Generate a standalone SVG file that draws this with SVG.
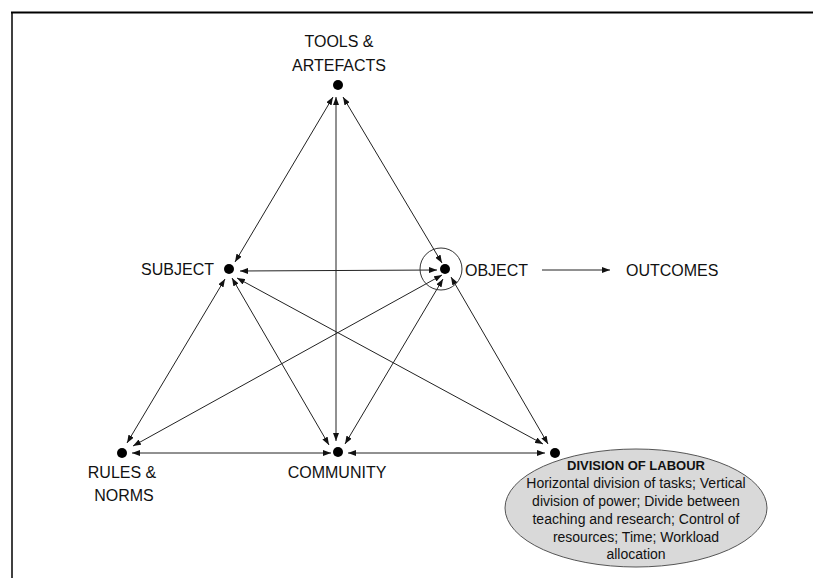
<svg xmlns="http://www.w3.org/2000/svg" width="813" height="578" viewBox="0 0 813 578">
  <defs>
    <marker id="head" viewBox="0 0 8 6" refX="8" refY="3" markerWidth="8" markerHeight="6" markerUnits="userSpaceOnUse" orient="auto-start-reverse">
      <path d="M0,0 L8,3 L0,6 z" fill="#111"/>
    </marker>
    <style>
      .frame { stroke: #000; fill: none; }
      .dot { fill: #000; }
      .lbl { font-family: "Liberation Sans", Arial, sans-serif; font-size: 16px; fill: #111; text-anchor: middle; }
      .lbl-l { font-family: "Liberation Sans", Arial, sans-serif; font-size: 16px; fill: #111; }
      .lbl-r { font-family: "Liberation Sans", Arial, sans-serif; font-size: 16px; fill: #111; text-anchor: end; }
      .link { stroke: #222; stroke-width: 1; fill: none; marker-start: url(#head); marker-end: url(#head); }
      .one-way { stroke: #222; stroke-width: 1; fill: none; marker-end: url(#head); }
      .dol-title { font-family: "Liberation Sans", Arial, sans-serif; font-size: 13px; font-weight: bold; fill: #111; text-anchor: middle; }
      .dol-body { font-family: "Liberation Sans", Arial, sans-serif; font-size: 14px; fill: #111; text-anchor: middle; }
    </style>
  </defs>

  <!-- page frame (top and left edges) -->
  <line class="frame" x1="11" y1="12.5" x2="813" y2="12.5" stroke-width="2"/>
  <line class="frame" x1="12" y1="12" x2="12" y2="578" stroke-width="1.5"/>

  <!-- connectors -->
  <g id="connectors">
    <line class="link" x1="333" y1="97" x2="235" y2="262"/>
    <line class="link" x1="336" y1="97" x2="336" y2="441"/>
    <line class="link" x1="343" y1="97" x2="442" y2="263"/>
    <line class="link" x1="240" y1="271" x2="437" y2="270"/>
    <line class="link" x1="225" y1="279" x2="127" y2="443"/>
    <line class="link" x1="232" y1="278" x2="329" y2="445"/>
    <line class="link" x1="237" y1="278" x2="543" y2="444"/>
    <line class="link" x1="442" y1="275" x2="133" y2="446"/>
    <line class="link" x1="443" y1="279" x2="345" y2="444"/>
    <line class="link" x1="451" y1="277" x2="548" y2="444"/>
    <line class="link" x1="132" y1="453" x2="331" y2="453"/>
    <line class="link" x1="348" y1="453" x2="545" y2="453"/>
    <line class="one-way" x1="542" y1="270" x2="610" y2="270"/>
  </g>

  <g id="tools">
    <circle class="dot" cx="338" cy="85" r="5"/>
    <text class="lbl" x="339" y="47">TOOLS &amp;</text>
    <text class="lbl" x="339" y="71">ARTEFACTS</text>
  </g>

  <g id="subject">
    <circle class="dot" cx="229" cy="269" r="5"/>
    <text class="lbl-r" x="214" y="275">SUBJECT</text>
  </g>

  <g id="object">
    <circle cx="441" cy="269" r="21" fill="none" stroke="#333" stroke-width="1"/>
    <circle class="dot" cx="445" cy="269" r="5"/>
    <text class="lbl-l" x="465" y="276">OBJECT</text>
  </g>

  <g id="outcomes">
    <text class="lbl-l" x="626" y="276">OUTCOMES</text>
  </g>

  <g id="rules">
    <circle class="dot" cx="122" cy="453" r="5"/>
    <text class="lbl" x="122" y="478">RULES &amp;</text>
    <text class="lbl" x="124" y="501">NORMS</text>
  </g>

  <g id="community">
    <circle class="dot" cx="338" cy="452" r="5"/>
    <text class="lbl" x="337" y="478">COMMUNITY</text>
  </g>

  <g id="division">
    <circle class="dot" cx="555" cy="453" r="5"/>
    <ellipse cx="636" cy="508" rx="131" ry="59" fill="#d9d9d9" stroke="#555" stroke-width="1"/>
    <text class="dol-title" x="636" y="470">DIVISION OF LABOUR</text>
    <text class="dol-body" x="636" y="488">Horizontal division of tasks; Vertical</text>
    <text class="dol-body" x="636" y="506">division of power; Divide between</text>
    <text class="dol-body" x="636" y="524">teaching and research; Control of</text>
    <text class="dol-body" x="636" y="542">resources; Time; Workload</text>
    <text class="dol-body" x="636" y="559">allocation</text>
  </g>
</svg>
